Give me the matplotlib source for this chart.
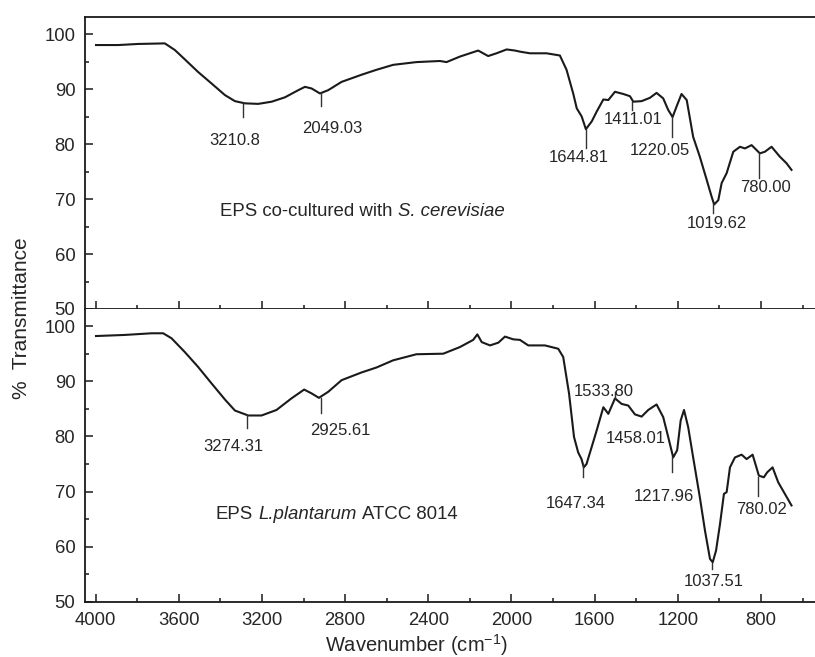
import matplotlib
matplotlib.use("Agg")
import matplotlib.pyplot as plt
from matplotlib.ticker import MultipleLocator
from matplotlib.transforms import IdentityTransform

plt.rcParams['font.family'] = ['Liberation Sans', 'DejaVu Sans']
plt.rcParams['mathtext.fontset'] = 'custom'
plt.rcParams['mathtext.rm'] = 'Liberation Sans'
plt.rcParams['mathtext.it'] = 'Liberation Sans:italic'
plt.rcParams['mathtext.default'] = 'regular'

# FTIR spectrum: EPS co-cultured with S. cerevisiae
top_wn = [3998, 3891, 3795, 3667, 3619, 3571, 3507, 3442, 3378, 3330, 3282, 3218,
          3153, 3089, 3025, 2993, 2961, 2921, 2881, 2817, 2721, 2649, 2569, 2457,
          2344, 2312, 2248, 2160, 2112, 2072, 2023, 1983, 1959, 1911, 1831, 1767,
          1735, 1703, 1686, 1662, 1642, 1614, 1590, 1558, 1534, 1502, 1462, 1430,
          1414, 1374, 1334, 1302, 1270, 1246, 1225, 1206, 1182, 1157, 1126, 1094,
          1061, 1037, 1025, 1005, 989, 965, 933, 901, 877, 845, 805, 781, 749,
          709, 677, 653]
top_T = [98.0, 98.0, 98.2, 98.3, 97.1, 95.4, 93.1, 91.0, 88.9, 87.8, 87.4, 87.3,
         87.7, 88.5, 89.8, 90.4, 90.1, 89.2, 89.8, 91.3, 92.6, 93.5, 94.4, 94.9,
         95.1, 94.9, 95.9, 97.0, 96.0, 96.5, 97.2, 97.0, 96.8, 96.5, 96.5, 96.1,
         93.5, 89.2, 86.5, 85.0, 82.7, 84.1, 85.9, 88.1, 88.0, 89.5, 89.1, 88.7,
         87.7, 87.8, 88.4, 89.3, 88.3, 86.2, 84.9, 86.8, 89.1, 88.0, 81.3, 77.7,
         73.5, 70.4, 69.0, 69.8, 72.9, 74.7, 78.6, 79.5, 79.2, 79.8, 78.3, 78.6,
         79.5, 77.7, 76.5, 75.3]

# FTIR spectrum: EPS L. plantarum ATCC 8014
bot_wn = [3998, 3859, 3731, 3675, 3635, 3571, 3507, 3442, 3378, 3330, 3266, 3202,
          3130, 3058, 2997, 2961, 2926, 2881, 2817, 2721, 2649, 2569, 2457, 2328,
          2248, 2184, 2164, 2143, 2103, 2063, 2031, 1991, 1959, 1919, 1839, 1775,
          1751, 1723, 1699, 1679, 1663, 1652, 1639, 1614, 1590, 1558, 1534, 1502,
          1470, 1438, 1406, 1374, 1342, 1302, 1270, 1246, 1222, 1203, 1186, 1170,
          1150, 1126, 1094, 1069, 1045, 1032, 1016, 997, 978, 965, 949, 925, 893,
          869, 840, 810, 786, 770, 744, 717, 685, 653]
bot_T = [98.2, 98.4, 98.7, 98.7, 97.8, 95.3, 92.6, 89.6, 86.7, 84.7, 83.8, 83.8,
         84.8, 86.9, 88.5, 87.8, 87.0, 88.1, 90.2, 91.6, 92.5, 93.8, 94.9, 95.0,
         96.2, 97.5, 98.5, 97.1, 96.5, 97.0, 98.1, 97.6, 97.5, 96.5, 96.5, 95.9,
         94.4, 87.8, 79.9, 77.1, 75.9, 74.4, 75.0, 78.1, 81.1, 85.3, 84.1, 86.9,
         85.9, 85.6, 84.0, 83.6, 84.8, 85.8, 83.5, 79.9, 76.2, 77.5, 82.9, 84.8,
         81.7, 76.2, 69.0, 62.9, 57.8, 57.2, 59.3, 64.1, 69.6, 69.9, 74.4, 76.2,
         76.7, 75.9, 76.7, 72.9, 72.6, 73.5, 74.4, 71.7, 69.6, 67.5]

# Peak markers: position, marker span (upper, lower), label text, label position
top_peak_wn = [3290, 2915, 1643, 1422, 1230, 1030, 808]
top_peak_span = [(87.4, 84.9), (89.3, 86.9), (82.7, 79.3), (87.7, 86.2),
                 (84.9, 81.3), (69.1, 67.5), (78.4, 73.8)]
top_labels = ["3210.8", "2049.03", "1644.81", "1411.01", "1220.05", "1019.62", "780.00"]
top_label_xy = [(3330, 80.7), (2863, 82.9), (1675, 77.5), (1415, 84.5),
                (1286, 78.9), (1013, 65.6), (777, 72.1)]

bot_peak_wn = [3271, 2916, 1500, 1655, 1230, 1034, 813]
bot_peak_span = [(83.8, 81.5), (86.9, 84.2), (86.9, 88.0), (75.1, 72.6),
                 (76.2, 73.5), (57.1, 55.9), (72.6, 69.3)]
bot_labels = ["3274.31", "2925.61", "1533.80", "1458.01", "1647.34", "1217.96",
              "1037.51", "780.02"]
bot_label_xy = [(3338, 78.1), (2822, 81.0), (1555, 88.2), (1401, 79.7),
                (1692, 67.9), (1265, 69.1), (1029, 53.7), (797, 66.7)]

# Sample titles: (text, italic?, space after?)
top_title = [("EPS co-cultured with", False, True), ("S. cerevisiae", True, False)]
bot_title = [("EPS", False, True), ("L.plantarum", True, True), ("ATCC 8014", False, False)]

x_ticks = [4000, 3600, 3200, 2800, 2400, 2000, 1600, 1200, 800]
y_ticks = [50, 60, 70, 80, 90, 100]

W, H = 815, 657
fig = plt.figure(figsize=(W / 100, H / 100), dpi=100)

left_px, right_px = 85, 815
top_px, mid_px, bot_px = 17, 309, 602
ax_top = fig.add_axes([left_px / W, 1 - mid_px / H, (right_px - left_px) / W,
                       (mid_px - top_px) / H])
ax_bot = fig.add_axes([left_px / W, 1 - bot_px / H, (right_px - left_px) / W,
                       (bot_px - mid_px) / H], sharex=ax_top)

ink = '#1a1a1a'
txt = '#262626'

for ax in (ax_top, ax_bot):
    ax.set_xlim(4051, 540)
    ax.set_ylim(50, 103.1)
    ax.set_xticks(x_ticks)
    ax.xaxis.set_minor_locator(MultipleLocator(200))
    ax.set_yticks(y_ticks)
    ax.yaxis.set_minor_locator(MultipleLocator(5))
    ax.tick_params(which='both', direction='in', colors=ink, width=1.1,
                   labelsize=13.3, labelcolor=txt, top=False, right=False)
    ax.tick_params(which='major', length=6, pad=7)
    ax.tick_params(which='minor', length=3)
    for s in ax.spines.values():
        s.set_linewidth(1.3)
        s.set_color(ink)
    ax.spines['right'].set_visible(False)

ax_top.tick_params(labelbottom=False)
ax_bot.spines['top'].set_visible(False)

ax_top.plot(top_wn, top_T, color=ink, lw=1.5, solid_joinstyle='round')
ax_bot.plot(bot_wn, bot_T, color=ink, lw=1.5, solid_joinstyle='round')

for wn, (y0, y1) in zip(top_peak_wn, top_peak_span):
    ax_top.plot([wn, wn], [y0, y1], color='#333333', lw=1.0)
for lab, (x, y) in zip(top_labels, top_label_xy):
    ax_top.text(x, y, lab, ha='center', va='center', fontsize=12, color=txt)

for wn, (y0, y1) in zip(bot_peak_wn, bot_peak_span):
    ax_bot.plot([wn, wn], [y0, y1], color='#333333', lw=1.0)
for lab, (x, y) in zip(bot_labels, bot_label_xy):
    ax_bot.text(x, y, lab, ha='center', va='center', fontsize=12, color=txt)


def mixed_text(ax, x, y, parts, size):
    """Write a run of normal/italic segments side by side, starting at (x, y)."""
    renderer = fig.canvas.get_renderer()
    a = ax.text(0, 0, "n n", fontsize=size)
    b = ax.text(0, 0, "nn", fontsize=size)
    space = a.get_window_extent(renderer).width - b.get_window_extent(renderer).width
    a.remove()
    b.remove()
    xd, yd = ax.transData.transform((x, y))
    for s, italic, gap in parts:
        t = ax.text(xd, yd, s, transform=IdentityTransform(), ha='left', va='center',
                    fontsize=size, color=txt, fontstyle='italic' if italic else 'normal')
        xd = t.get_window_extent(renderer).x1 + (space if gap else 0)


mixed_text(ax_top, 3402, 67.8, top_title, 13.4)
mixed_text(ax_bot, 3421, 65.9, bot_title, 13.4)

fig.text(416.7 / W, 1 - 652 / H, r"Wavenumber (cm$^{-1}$)", ha='center',
         va='baseline', fontsize=14.5, color=txt)
fig.text(21.7 / W, 1 - 318 / H, "%  Transmittance", rotation=90, ha='center',
         va='center', fontsize=15, color=txt)

fig.savefig("out.png", dpi=100)
